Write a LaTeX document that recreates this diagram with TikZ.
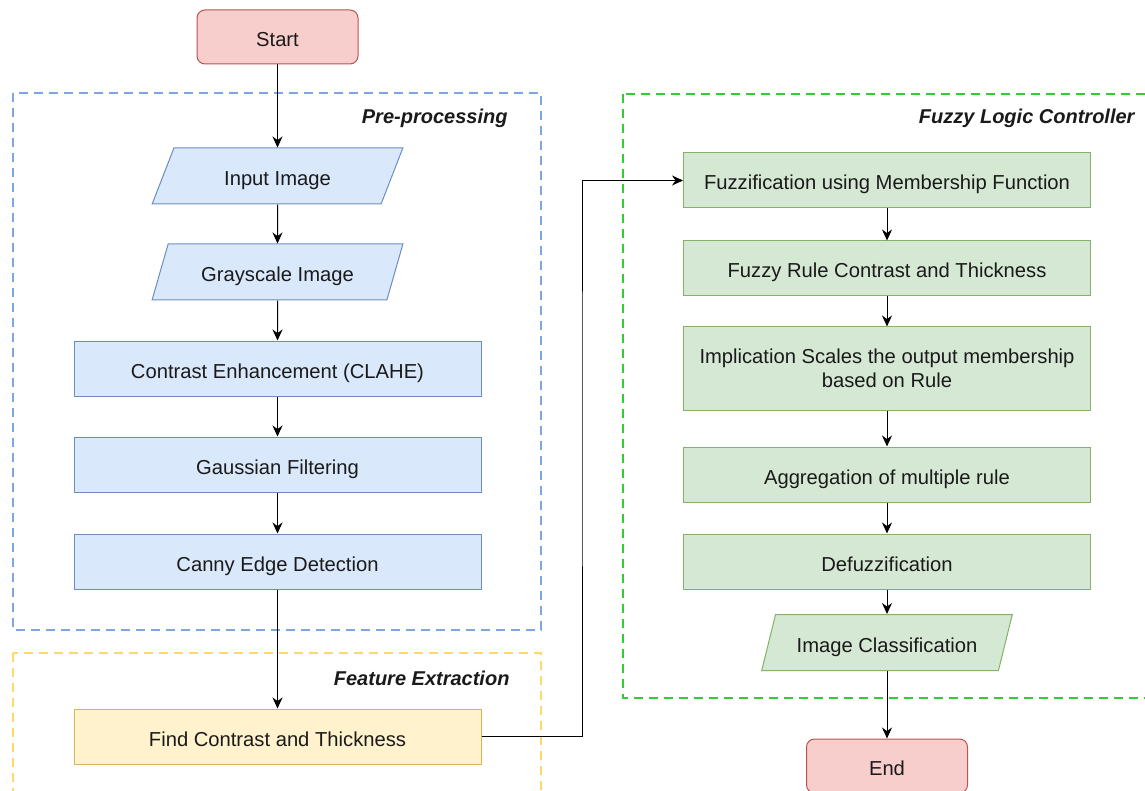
\documentclass[tikz,border=0pt]{standalone}
\usepackage{fontspec}
\setmainfont{Liberation Sans}
\usetikzlibrary{shapes.geometric,arrows.meta}
\definecolor{bluefill}{HTML}{DAE8FC}
\definecolor{blueline}{HTML}{6C8EBF}
\definecolor{greenfill}{HTML}{D5E8D4}
\definecolor{greenline}{HTML}{82B366}
\definecolor{yellowfill}{HTML}{FFF2CC}
\definecolor{yellowline}{HTML}{D6B656}
\definecolor{redfill}{HTML}{F8CECC}
\definecolor{redline}{HTML}{B85450}
\definecolor{bluedash}{HTML}{7EA6E0}
\definecolor{yellowdash}{HTML}{FFD966}
\definecolor{greendash}{HTML}{33CC33}
\definecolor{txt}{HTML}{1A1A1A}
\begin{document}
\begin{tikzpicture}[>={Stealth[length=11pt,width=10pt]},x=1pt,y=-1pt,line width=1pt,
	every node/.style={text=txt,font=\fontsize{20.2}{24}\selectfont,align=center,inner sep=0pt},
	proc/.style={draw,minimum width=407pt,minimum height=55pt,text height=21pt,text depth=2pt},
	iobox/.style={draw,trapezium,trapezium left angle=64,trapezium right angle=116,trapezium stretches=true,minimum width=251pt,minimum height=56pt,text height=21pt,text depth=2pt},
	term/.style={draw=redline,fill=redfill,rounded corners=8pt,minimum width=161pt,minimum height=54pt,text height=21pt,text depth=2pt},
	group/.style={dash pattern=on 9pt off 6pt,line width=1.1pt},
	title/.style={anchor=east,font=\fontsize{20}{24}\selectfont\bfseries\itshape}]
	\clip (0,0) rectangle (1145,791);
	% groups
	\draw[group,bluedash] (13,93) rectangle (541,630);
	\draw[group,yellowdash] (13,653) rectangle (541,810);
	\draw[group,greendash] (623,94) rectangle (1165,698);
	\node[title] (pretitle) at (508,118) {Pre-processing};
	\node[title] (feattitle) at (510,678) {Feature Extraction};
	\node[title] (fuzzytitle) at (1135,118) {Fuzzy Logic Controller};
	% left column
	\node[term] (start) at (277.5,37) {Start};
	\node[iobox,draw=blueline,fill=bluefill] (input) at (277.5,176) {Input Image};
	\node[iobox,draw=blueline,fill=bluefill] (gray) at (277.5,272) {Grayscale Image};
	\node[proc,draw=blueline,fill=bluefill] (clahe) at (277.5,368.5) {Contrast Enhancement (CLAHE)};
	\node[proc,draw=blueline,fill=bluefill] (gauss) at (277.5,464.5) {Gaussian Filtering};
	\node[proc,draw=blueline,fill=bluefill] (canny) at (277.5,561.5) {Canny Edge Detection};
	\node[proc,draw=yellowline,fill=yellowfill] (find) at (277.5,736.5) {Find Contrast and Thickness};
	% right column
	\node[proc,draw=greenline,fill=greenfill] (fuzz) at (887,180.5) {Fuzzification using Membership Function};
	\node[proc,draw=greenline,fill=greenfill] (rule) at (887,268.5) {Fuzzy Rule Contrast and Thickness};
	\node[proc,draw=greenline,fill=greenfill,minimum height=83pt,text height=,text depth=] (impl) at (887,368.5) {Implication Scales the output membership\\based on Rule};
	\node[proc,draw=greenline,fill=greenfill] (aggr) at (887,474.5) {Aggregation of multiple rule};
	\node[proc,draw=greenline,fill=greenfill] (defuzz) at (887,561.5) {Defuzzification};
	\node[iobox,draw=greenline,fill=greenfill] (classif) at (887,642.5) {Image Classification};
	\node[term] (end) at (887,766) {End};
	\coordinate (bend) at (582,400);
	% connectors
	\draw[->] (start) -- (input);
	\draw[->] (input) -- (gray);
	\draw[->] (gray) -- (clahe);
	\draw[->] (clahe) -- (gauss);
	\draw[->] (gauss) -- (canny);
	\draw[->] (canny) -- (find);
	\draw[->] (find.east) -| (bend) |- (fuzz.west);
	\draw[->] (fuzz) -- (rule);
	\draw[->] (rule) -- (impl);
	\draw[->] (impl) -- (aggr);
	\draw[->] (aggr) -- (defuzz);
	\draw[->] (defuzz) -- (classif);
	\draw[->] (classif) -- (end);
\end{tikzpicture}
\end{document}
